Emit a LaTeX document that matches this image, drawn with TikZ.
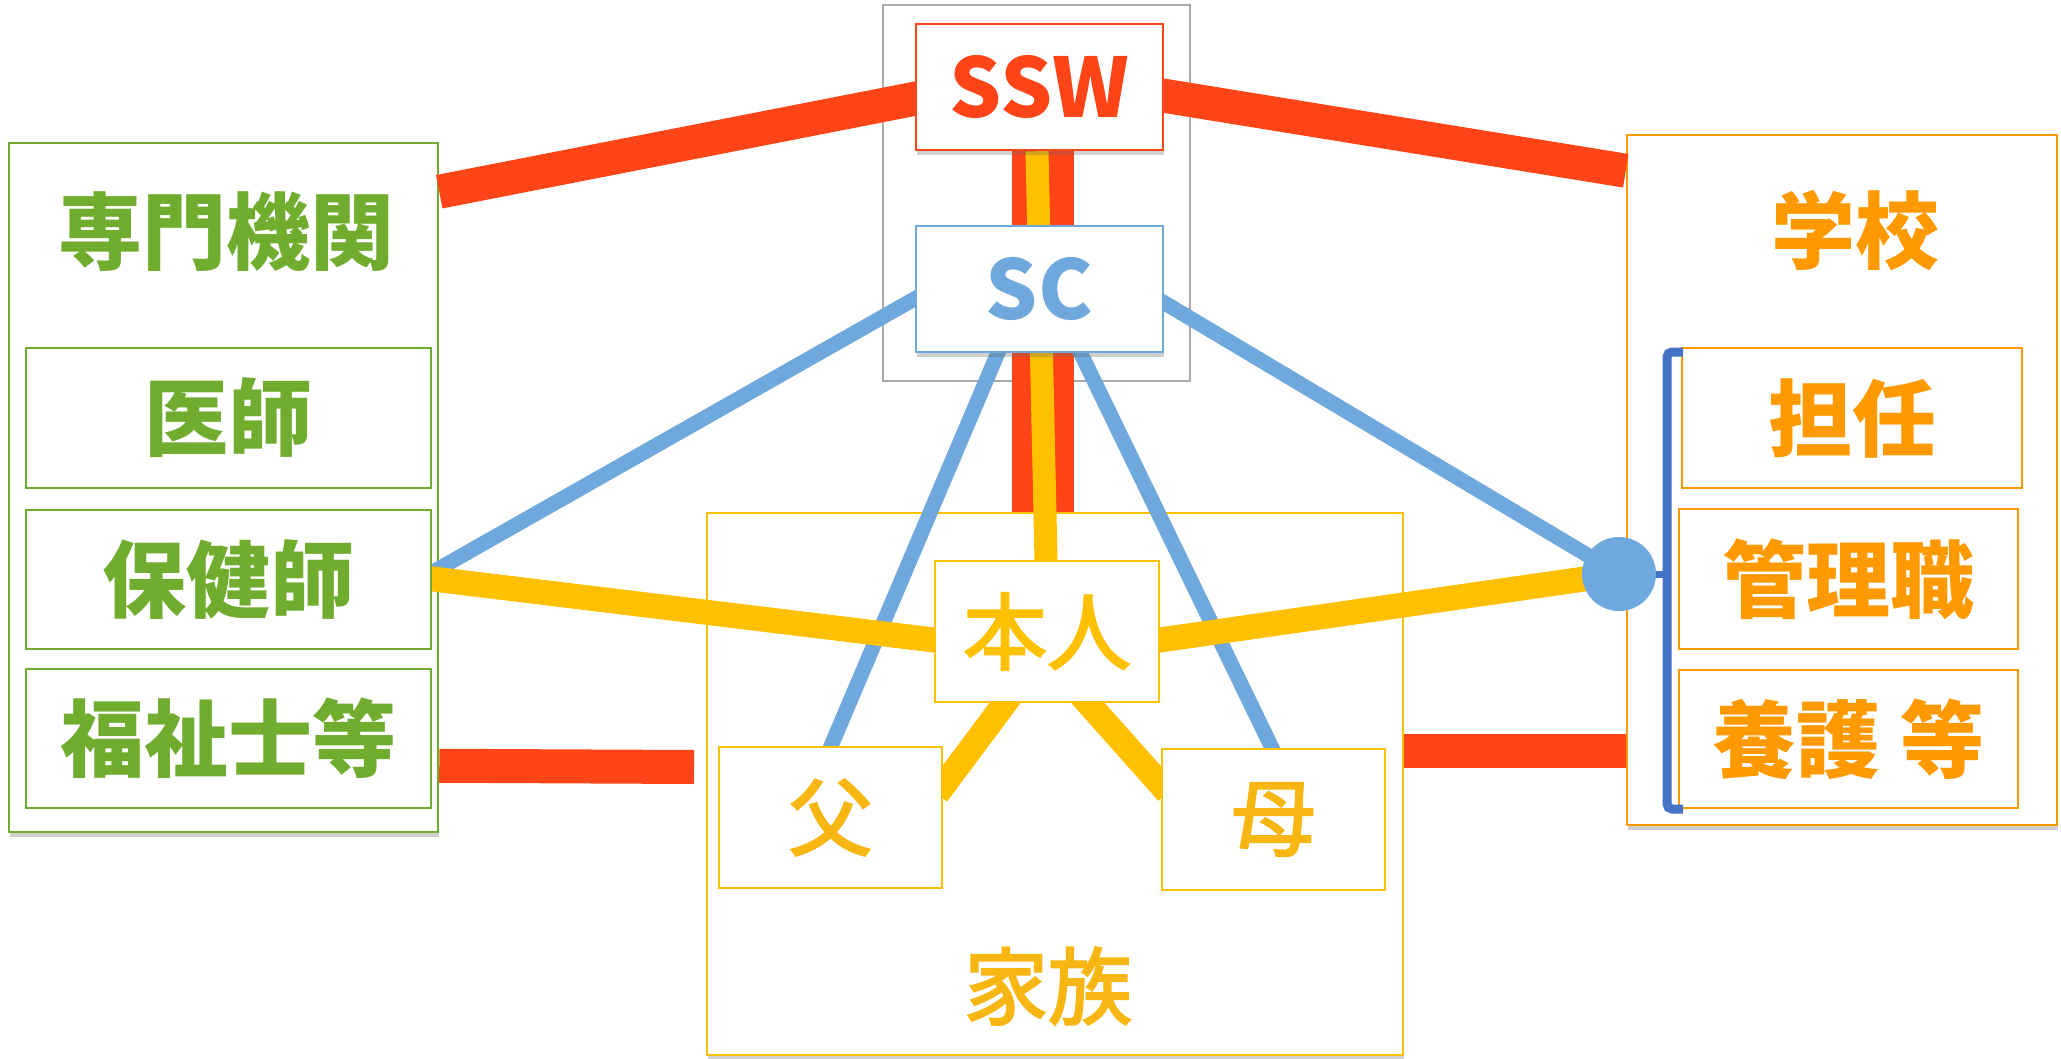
\documentclass[tikz,border=0pt]{standalone}
\usepackage{fontspec}
\setmainfont{Noto Sans CJK JP}
\newfontfamily\famfont{Noto Sans CJK JP}[FakeBold=2.5]
\usetikzlibrary{shadows,calc}
\definecolor{cred}{RGB}{255,69,23}
\definecolor{cyel}{RGB}{255,192,0}
\definecolor{cblue}{RGB}{111,168,220}
\definecolor{cdblue}{RGB}{68,114,196}
\definecolor{cgreen}{RGB}{112,173,47}
\definecolor{corange}{RGB}{255,153,0}
\definecolor{cgold}{RGB}{248,182,18}
\definecolor{cgray}{RGB}{170,170,170}
\pgfdeclarelayer{bg}
\pgfdeclarelayer{lines}
\pgfsetlayers{bg,lines,main}
\begin{document}
\begin{tikzpicture}[x=1pt,y=-1pt,
  box/.style={draw, fill=white, rectangle, inner sep=0pt, line width=2pt},
  shad/.style={drop shadow={shadow xshift=1pt, shadow yshift=-5pt, opacity=0.3, fill=black!60}},
  big/.style={font=\fontsize{84}{90}\selectfont\bfseries},
  fam/.style={font=\famfont\fontsize{84}{90}\selectfont},
  lbl/.style={inner sep=0pt},
  redband/.style={draw=cred, line width=34pt},
  yelband/.style={draw=cyel, line width=25pt},
  blueline/.style={draw=cblue, line width=15pt},
]
\useasboundingbox (0,0) rectangle (2061,1059);

\begin{pgfonlayer}{bg}
\fill[white] (0,0) rectangle (2061,1059);
\node[box, draw=cgreen, line width=2.5pt, shad, minimum width=429pt, minimum height=689pt] (senmon) at (223.5,487.5) {};
\node[box, draw=corange, line width=2.5pt, shad, minimum width=430pt, minimum height=690pt] (gakko) at (1842,480) {};
\node[box, draw=cyel, line width=2.5pt, shad, minimum width=696pt, minimum height=542pt] (kazoku) at (1055,784) {};
\node[draw=cgray, line width=2.5pt, inner sep=0pt, minimum width=307pt, minimum height=376pt] (team) at (1036.5,193) {};
\end{pgfonlayer}

% inner boxes
\node[box, draw=cgreen, text=cgreen, big, minimum width=405pt, minimum height=140pt] (ishi) at (228.5,418) {医師};
\node[box, draw=cgreen, text=cgreen, big, minimum width=405pt, minimum height=139pt] (hoken) at (228.5,579.5) {保健師};
\node[box, draw=cgreen, text=cgreen, big, minimum width=405pt, minimum height=139pt] (fukushi) at (228.5,738.5) {福祉士等};

\node[box, draw=corange, text=corange, big, minimum width=340pt, minimum height=140pt] (tannin) at (1852,418) {担任};
\node[box, draw=corange, text=corange, big, minimum width=339pt, minimum height=140pt] (kanri) at (1848.5,579) {管理職};
\node[box, draw=corange, text=corange, big, minimum width=339pt, minimum height=138pt] (yogo) at (1848.5,739) {養護 等};

\node[box, draw=cred, line width=2.5pt, shad, text=cred, font=\fontsize{82}{88}\selectfont\bfseries, minimum width=247pt, minimum height=126pt] (ssw) at (1039.5,87) {SSW};
\node[box, draw=cblue, line width=2.5pt, shad, text=cblue, font=\fontsize{82}{88}\selectfont\bfseries, minimum width=247pt, minimum height=126pt] (sc) at (1039.5,289) {SC};

\node[box, draw=cyel, text=cyel, fam, minimum width=224pt, minimum height=141pt] (honnin) at (1047,631.5) {本人};
\node[box, draw=cyel, text=cgold, fam, minimum width=223pt, minimum height=141pt] (chichi) at (830.5,817.5) {父};
\node[box, draw=cyel, text=cgold, fam, minimum width=223pt, minimum height=141pt] (haha) at (1273.5,819.5) {母};

% labels
\node[lbl, text=cgreen, big] (senmonlbl) at (226,232) {専門機関};
\node[lbl, text=corange, big] (gakkolbl) at (1855,230) {学校};
\node[lbl, text=cgold, fam] (kazokulbl) at (1048,986) {家族};

% hub circle
\node[circle, fill=cblue, inner sep=0pt, minimum size=74pt] (circ) at (1619,574) {};

% bracket
\coordinate (brtop) at (1683,352);
\coordinate (brbot) at (1683,809);
\draw[cdblue, line width=9pt, rounded corners=5pt] (brtop) -- (1667,352) -- (1667,809) -- (brbot);
\draw[cdblue, line width=7pt] (circ.east) -- (1667,574);

\begin{pgfonlayer}{lines}
% red bands
\draw[redband, shorten >=-10pt] ($(senmon.north east)+(0,50)$) -- ($(ssw.north west)+(0,76)$);
\draw[redband, shorten <=-10pt] ($(ssw.north east)+(0,73)$) -- ($(gakko.north west)+(0,37)$);
\coordinate (redend) at (694,767);
\draw[redband] ($(senmon.north east)+(0,624)$) -- (redend);
\draw[redband] ($(kazoku.north east)+(0,239)$) -- ($(gakko.north west)+(0,617)$);
\draw[redband, line width=62pt] ($(ssw.south)+(3.5,0)$) -- ($(kazoku.north)+(-12,0)$);
\draw[yelband, line width=23pt, shorten >=-10pt] ($(ssw.south)+(-2.5,0)$) -- ($(honnin.north)+(-1,0)$);
% blue lines
\draw[blueline, shorten <=-10pt, shorten >=-10pt] ($(sc.north west)+(0,74)$) -- ($(hoken.north east)+(1,63)$);
\draw[blueline, shorten <=-10pt] ($(sc.north east)+(0,78)$) -- (circ.center);
\draw[blueline, shorten <=-10pt, shorten >=-10pt] ($(sc.south west)+(83,0)$) -- ($(chichi.north west)+(113,0)$);
\draw[blueline, shorten <=-10pt, shorten >=-10pt] ($(sc.south west)+(166,0)$) -- ($(haha.north west)+(111,0)$);
% yellow lines
\draw[yelband, shorten <=-10pt, shorten >=-10pt] ($(hoken.north east)+(1,70)$) -- ($(honnin.north west)+(0,80)$);
\draw[yelband, shorten <=-10pt] ($(honnin.north east)+(0,80)$) -- (circ.center);
\draw[yelband, shorten <=-10pt, shorten >=-10pt] ($(honnin.south west)+(71,0)$) -- ($(chichi.north east)+(0,40)$);
\draw[yelband, shorten <=-10pt, shorten >=-10pt] ($(honnin.south west)+(154,0)$) -- ($(haha.north west)+(0,37)$);
\end{pgfonlayer}
\end{tikzpicture}
\end{document}
